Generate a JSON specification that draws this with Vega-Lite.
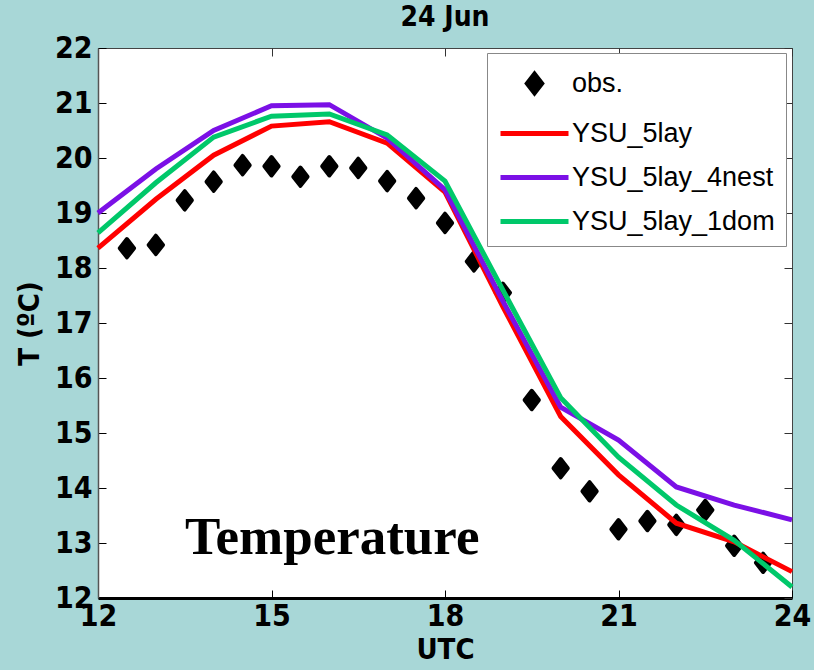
{
  "$schema": "https://vega.github.io/schema/vega-lite/v6.json",
  "width": 694,
  "height": 550,
  "autosize": "none",
  "padding": {"left": 98, "top": 48, "right": 22, "bottom": 72},
  "background": "#a8d7d7",
  "title": {"text": "24 Jun", "font": "'Liberation Sans Narrow', 'DejaVu Sans Condensed', 'Liberation Sans', sans-serif", "fontSize": 28, "fontWeight": "bold", "color": "black", "offset": 1, "anchor": "middle"},
  "config": {
    "view": {"stroke": "#444", "strokeWidth": 1, "fill": "white"},
    "axis": {"grid": false, "labelFont": "'Liberation Sans Narrow', 'DejaVu Sans Condensed', 'Liberation Sans', sans-serif", "labelFontWeight": "bold", "labelFontSize": 30, "labelColor": "black", "titleFont": "'Liberation Sans Narrow', 'DejaVu Sans Condensed', 'Liberation Sans', sans-serif", "titleFontWeight": "bold", "titleFontSize": 29, "titleColor": "black", "tickColor": "black", "tickSize": -8, "tickWidth": 1}
  },
  "datasets": {
    "obs": [
      {"utc": 12.5, "temp": 18.36, "series": "obs."},
      {"utc": 13.0, "temp": 18.42, "series": "obs."},
      {"utc": 13.5, "temp": 19.23, "series": "obs."},
      {"utc": 14.0, "temp": 19.57, "series": "obs."},
      {"utc": 14.5, "temp": 19.87, "series": "obs."},
      {"utc": 15.0, "temp": 19.85, "series": "obs."},
      {"utc": 15.5, "temp": 19.66, "series": "obs."},
      {"utc": 16.0, "temp": 19.85, "series": "obs."},
      {"utc": 16.5, "temp": 19.82, "series": "obs."},
      {"utc": 17.0, "temp": 19.58, "series": "obs."},
      {"utc": 17.5, "temp": 19.27, "series": "obs."},
      {"utc": 18.0, "temp": 18.82, "series": "obs."},
      {"utc": 18.5, "temp": 18.12, "series": "obs."},
      {"utc": 19.0, "temp": 17.55, "series": "obs."},
      {"utc": 19.5, "temp": 15.6, "series": "obs."},
      {"utc": 20.0, "temp": 14.36, "series": "obs."},
      {"utc": 20.5, "temp": 13.94, "series": "obs."},
      {"utc": 21.0, "temp": 13.25, "series": "obs."},
      {"utc": 21.5, "temp": 13.4, "series": "obs."},
      {"utc": 22.0, "temp": 13.33, "series": "obs."},
      {"utc": 22.5, "temp": 13.6, "series": "obs."},
      {"utc": 23.0, "temp": 12.95, "series": "obs."},
      {"utc": 23.5, "temp": 12.64, "series": "obs."}
    ],
    "model": [
      {"utc": 12, "temp": 18.36, "series": "YSU_5lay"},
      {"utc": 13, "temp": 19.25, "series": "YSU_5lay"},
      {"utc": 14, "temp": 20.05, "series": "YSU_5lay"},
      {"utc": 15, "temp": 20.58, "series": "YSU_5lay"},
      {"utc": 16, "temp": 20.66, "series": "YSU_5lay"},
      {"utc": 17, "temp": 20.27, "series": "YSU_5lay"},
      {"utc": 18, "temp": 19.38, "series": "YSU_5lay"},
      {"utc": 19, "temp": 17.3, "series": "YSU_5lay"},
      {"utc": 20, "temp": 15.3, "series": "YSU_5lay"},
      {"utc": 21, "temp": 14.24, "series": "YSU_5lay"},
      {"utc": 22, "temp": 13.36, "series": "YSU_5lay"},
      {"utc": 23, "temp": 13.02, "series": "YSU_5lay"},
      {"utc": 24, "temp": 12.48, "series": "YSU_5lay"},
      {"utc": 12, "temp": 19.0, "series": "YSU_5lay_4nest"},
      {"utc": 13, "temp": 19.8, "series": "YSU_5lay_4nest"},
      {"utc": 14, "temp": 20.5, "series": "YSU_5lay_4nest"},
      {"utc": 15, "temp": 20.95, "series": "YSU_5lay_4nest"},
      {"utc": 16, "temp": 20.97, "series": "YSU_5lay_4nest"},
      {"utc": 17, "temp": 20.36, "series": "YSU_5lay_4nest"},
      {"utc": 18, "temp": 19.42, "series": "YSU_5lay_4nest"},
      {"utc": 19, "temp": 17.4, "series": "YSU_5lay_4nest"},
      {"utc": 20, "temp": 15.47, "series": "YSU_5lay_4nest"},
      {"utc": 21, "temp": 14.87, "series": "YSU_5lay_4nest"},
      {"utc": 22, "temp": 14.02, "series": "YSU_5lay_4nest"},
      {"utc": 23, "temp": 13.69, "series": "YSU_5lay_4nest"},
      {"utc": 24, "temp": 13.42, "series": "YSU_5lay_4nest"},
      {"utc": 12, "temp": 18.64, "series": "YSU_5lay_1dom"},
      {"utc": 13, "temp": 19.55, "series": "YSU_5lay_1dom"},
      {"utc": 14, "temp": 20.38, "series": "YSU_5lay_1dom"},
      {"utc": 15, "temp": 20.76, "series": "YSU_5lay_1dom"},
      {"utc": 16, "temp": 20.8, "series": "YSU_5lay_1dom"},
      {"utc": 17, "temp": 20.42, "series": "YSU_5lay_1dom"},
      {"utc": 18, "temp": 19.58, "series": "YSU_5lay_1dom"},
      {"utc": 19, "temp": 17.6, "series": "YSU_5lay_1dom"},
      {"utc": 20, "temp": 15.64, "series": "YSU_5lay_1dom"},
      {"utc": 21, "temp": 14.56, "series": "YSU_5lay_1dom"},
      {"utc": 22, "temp": 13.69, "series": "YSU_5lay_1dom"},
      {"utc": 23, "temp": 13.05, "series": "YSU_5lay_1dom"},
      {"utc": 24, "temp": 12.2, "series": "YSU_5lay_1dom"}
    ],
    "note": [
      {"utc": 16.05, "temp": 12.8, "label": "Temperature"}
    ]
  },
  "resolve": {"axis": {"x": "independent", "y": "independent"}},
  "layer": [
    {
      "data": {"name": "obs"},
      "mark": {"type": "point", "filled": true, "opacity": 1, "size": 1156, "stroke": "black", "strokeWidth": 4, "strokeJoin": "round"},
      "encoding": {
        "x": {"field": "utc", "type": "quantitative", "scale": {"domain": [12, 24], "nice": false, "zero": false},
              "axis": {"values": [12, 15, 18, 21, 24], "title": "UTC", "labelPadding": 11, "titlePadding": 4, "domainColor": "black", "domainWidth": 3, "labelFlush": false}},
        "y": {"field": "temp", "type": "quantitative", "scale": {"domain": [12, 22], "nice": false, "zero": false},
              "axis": {"values": [12, 13, 14, 15, 16, 17, 18, 19, 20, 21, 22], "title": "T (ºC)", "labelPadding": 14, "titlePadding": 10, "domainColor": "#555", "domainWidth": 1.5}},
        "color": {"field": "series", "type": "nominal",
                  "scale": {"domain": ["obs.", "YSU_5lay", "YSU_5lay_4nest", "YSU_5lay_1dom"], "range": ["black", "#ff0000", "#7b10e6", "#00c86a"]},
                  "legend": {"title": null, "orient": "none", "legendX": 389, "legendY": 5, "fillColor": "white", "strokeColor": "#888", "padding": 11, "labelFont": "Liberation Sans", "labelFontSize": 27, "labelColor": "black", "symbolOffset": 17, "labelOffset": 18, "rowPadding": 11, "symbolSize": 1156, "symbolStrokeWidth": 5, "labelLimit": 400}},
        "shape": {"field": "series", "type": "nominal",
                  "scale": {"domain": ["obs.", "YSU_5lay", "YSU_5lay_4nest", "YSU_5lay_1dom"], "range": ["M0,-0.54L0.42,0L0,0.54L-0.42,0Z", "M-2,0L2,0", "M-2,0L2,0", "M-2,0L2,0"]},
                  "legend": {"title": null, "orient": "none", "legendX": 389, "legendY": 5, "fillColor": "white", "strokeColor": "#888", "padding": 11, "labelFont": "Liberation Sans", "labelFontSize": 27, "labelColor": "black", "symbolOffset": 17, "labelOffset": 18, "rowPadding": 11, "symbolSize": 1156, "symbolStrokeWidth": 5, "labelLimit": 400}}
      }
    },
    {
      "data": {"name": "model"},
      "mark": {"type": "line", "strokeWidth": 5},
      "encoding": {
        "x": {"field": "utc", "type": "quantitative", "axis": null},
        "y": {"field": "temp", "type": "quantitative", "axis": null},
        "color": {"field": "series", "type": "nominal"}
      }
    },
    {
      "data": {"name": "note"},
      "mark": {"type": "text", "font": "Liberation Serif", "fontWeight": "bold", "fontSize": 53, "align": "center", "baseline": "alphabetic", "color": "black"},
      "encoding": {
        "x": {"field": "utc", "type": "quantitative", "axis": null},
        "y": {"field": "temp", "type": "quantitative", "axis": null},
        "text": {"field": "label"}
      }
    },
    {
      "data": {"name": "obs"},
      "mark": {"type": "point", "opacity": 0},
      "encoding": {
        "x": {"field": "utc", "type": "quantitative", "axis": {"orient": "top", "values": [12, 15, 18, 21, 24], "labels": false, "title": null, "domain": false, "tickColor": "#333"}},
        "y": {"field": "temp", "type": "quantitative", "axis": {"orient": "right", "values": [12, 13, 14, 15, 16, 17, 18, 19, 20, 21, 22], "labels": false, "title": null, "domain": false, "tickColor": "#333"}}
      }
    }
  ]
}
